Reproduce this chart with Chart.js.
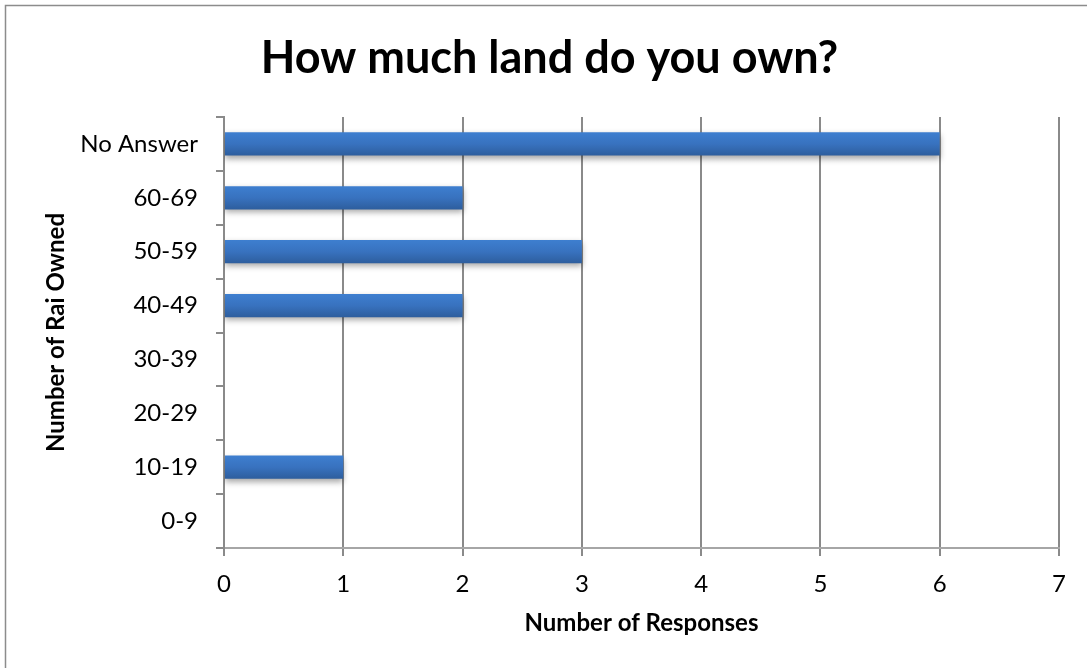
<!DOCTYPE html>
<html>
<head>
<meta charset="utf-8">
<script src="https://cdn.jsdelivr.net/npm/chart.js@4/dist/chart.umd.min.js"></script>
<style>
  body { margin: 0; background: #fff; }
  #wrap { width: 1087px; height: 668px; }
</style>
</head>
<body>
<div id="wrap"><canvas id="landChart"></canvas></div>
<script>
const rangeLabels = ['No Answer', '60-69', '50-59', '40-49', '30-39', '20-29', '10-19', '0-9'];
const responseCounts = [6, 2, 3, 2, 0, 0, 1, 0];
const xTicks = [0, 1, 2, 3, 4, 5, 6, 7];

const fontFamily = 'Lato, "Open Sans", sans-serif';

// frame round the whole chart + shadow under the bars
const frame = {
  id: 'frame',
  beforeDraw(chart) {
    const ctx = chart.ctx;
    ctx.save();
    ctx.fillStyle = '#fff';
    ctx.fillRect(0, 0, chart.width, chart.height);
    ctx.strokeStyle = '#8c8c8c';
    ctx.lineWidth = 1.5;
    ctx.strokeRect(5.5, 5.5, chart.width + 20, chart.height + 20);
    ctx.restore();
  },
  beforeDatasetsDraw(chart) {
    const ctx = chart.ctx;
    ctx.save();
    ctx.shadowColor = 'rgba(0,0,0,0.35)';
    ctx.shadowBlur = 6;
    ctx.shadowOffsetY = 3;
  },
  afterDatasetsDraw(chart) {
    chart.ctx.restore();
  }
};

function barGradient(context) {
  const chart = context.chart;
  const yScale = chart.scales && chart.scales.y;
  if (!chart.chartArea || !yScale) return '#3872bf';
  const cy = yScale.getPixelForValue(context.dataIndex);
  if (!isFinite(cy)) return '#3872bf';
  const h = 12;
  const g = chart.ctx.createLinearGradient(0, cy - h, 0, cy + h);
  g.addColorStop(0, '#3e7fd0');
  g.addColorStop(0.5, '#3872bf');
  g.addColorStop(1, '#2d5d9c');
  return g;
}

new Chart(document.getElementById('landChart'), {
  type: 'bar',
  data: {
    labels: rangeLabels,
    datasets: [{
      data: responseCounts,
      backgroundColor: barGradient,
      borderWidth: 0,
      barPercentage: 0.43,
      categoryPercentage: 1
    }]
  },
  options: {
    indexAxis: 'y',
    responsive: true,
    maintainAspectRatio: false,
    animation: false,
    layout: { padding: { left: 40, right: 28, top: 0, bottom: 26 } },
    plugins: {
      legend: { display: false },
      tooltip: { enabled: false },
      title: {
        display: true,
        text: 'How much land do you own?',
        color: '#000',
        font: { family: fontFamily, size: 45, weight: 'bold', lineHeight: 1.2 },
        padding: { top: 31, bottom: 32 }
      }
    },
    scales: {
      x: {
        min: 0,
        max: 7,
        afterBuildTicks(scale) { scale.ticks = xTicks.map(v => ({ value: v })); },
        afterFit(scale) { scale.height = 94; },
        grid: { color: '#8a8a8a', lineWidth: 2, tickLength: 8, drawTicks: true },
        border: { display: true, color: '#a6a6a6', width: 2 },
        ticks: { color: '#000', padding: 14, font: { family: fontFamily, size: 24 } },
        title: {
          display: true,
          text: 'Number of Responses',
          color: '#000',
          font: { family: fontFamily, size: 24, weight: 'bold' },
          padding: { top: 4, bottom: 4 }
        }
      },
      y: {
        afterFit(scale) { scale.width = 184; },
        grid: { drawOnChartArea: false, drawTicks: true, tickLength: 8, offset: true, color: '#8a8a8a', lineWidth: 2 },
        border: { display: true, color: '#8a8a8a', width: 2 },
        ticks: { color: '#000', padding: 18, font: { family: fontFamily, size: 24 } },
        title: {
          display: true,
          text: 'Number of Rai Owned',
          color: '#000',
          font: { family: fontFamily, size: 24, weight: 'bold' },
          padding: { top: 2, bottom: 0 }
        }
      }
    }
  },
  plugins: [frame]
});
</script>
</body>
</html>
